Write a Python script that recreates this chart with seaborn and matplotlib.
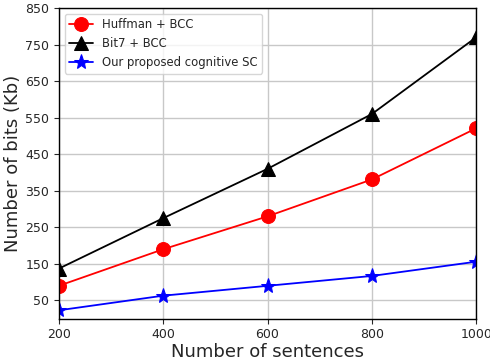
import matplotlib
matplotlib.use("Agg")
import matplotlib.pyplot as plt
import seaborn as sns
import pandas as pd

sentences = [200, 400, 600, 800, 1000]
huffman = [90, 190, 280, 381, 521]
bit7 = [137, 275, 410, 560, 770]
ours = [23, 63, 90, 117, 156]
labels = ["Huffman + BCC", "Bit7 + BCC", "Our proposed cognitive SC"]
colors = ["red", "black", "blue"]
markers = ["o", "^", "*"]
yticks = [50, 150, 250, 350, 450, 550, 650, 750, 850]

sns.set_style("white")
plt.rcParams['font.family'] = ['DejaVu Sans']

fig, ax = plt.subplots(figsize=(4.9, 3.63), dpi=100)
for vals, lab, c, m in zip([huffman, bit7, ours], labels, colors, markers):
    df = pd.DataFrame({"x": sentences, "y": vals})
    sns.lineplot(data=df, x="x", y="y", ax=ax, color=c, marker=m,
                 markersize=10 if m != "*" else 11, markeredgecolor=c,
                 linewidth=1.3, label=lab)

ax.set_xlim(200, 1000)
ax.set_ylim(0, 850)
ax.set_xticks(sentences)
ax.set_yticks(yticks)
ax.grid(True, color="#c8c8c8", linewidth=1)
for s in ax.spines.values():
    s.set_color("black")
    s.set_linewidth(1)
ax.tick_params(axis="both", labelsize=9, direction="out", length=3.5, left=True, bottom=True)
ax.set_xlabel("Number of sentences", fontsize=13, labelpad=1)
ax.set_ylabel("Number of bits (Kb)", fontsize=13, labelpad=2)
ax.legend(loc="upper left", fontsize=8.4, frameon=True, edgecolor="#cccccc", fancybox=True)
fig.subplots_adjust(left=0.12, right=0.972, top=0.978, bottom=0.122)
fig.savefig("out.png", dpi=100)
